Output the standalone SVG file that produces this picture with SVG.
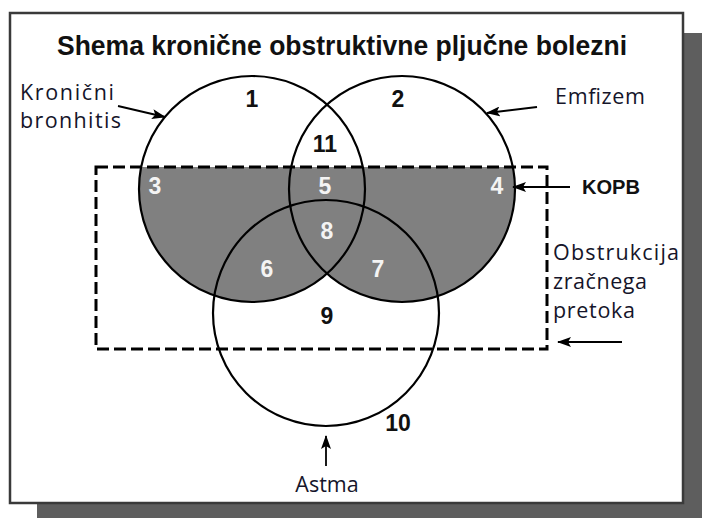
<svg xmlns="http://www.w3.org/2000/svg" width="702" height="518" viewBox="0 0 702 518">
<style>
.num{font-family:"Liberation Sans",Arial,sans-serif;font-weight:bold;font-size:23px;text-anchor:middle}
.blk{fill:#111}
.wht{fill:#f4f4f4}
.lbl{font-family:"Open Sans","Noto Sans",sans-serif;font-size:21.5px;fill:#15152a}
.circ{fill:none;stroke:#000;stroke-width:2.2}
.arr{stroke:#000;stroke-width:1.8;fill:none;marker-end:url(#ah)}
</style>
<defs>
<marker id="ah" viewBox="0 0 14 10" refX="13" refY="5" markerWidth="14" markerHeight="10" markerUnits="userSpaceOnUse" orient="auto">
<path d="M0,0 L14,5 L0,10 L3,5 Z" fill="#000"/>
</marker>
<clipPath id="box"><rect x="96" y="167" width="451" height="182"/></clipPath>
</defs>
<rect id="shadow" x="37" y="33" width="665" height="485" fill="#5e5e5e"/>
<rect id="frame" x="10" y="13" width="673" height="490" fill="#fff" stroke="#3a3a3a" stroke-width="2.5"/>
<text x="342" y="55" font-family="'Liberation Sans',Arial,sans-serif" font-weight="bold" font-size="28" fill="#111" text-anchor="middle" textLength="570" lengthAdjust="spacingAndGlyphs">Shema kronične obstruktivne pljučne bolezni</text>
<g id="shading" clip-path="url(#box)" fill="#808080">
<circle cx="252" cy="189" r="113"/>
<circle cx="402" cy="189" r="113"/>
</g>
<g id="kronicni-bronhitis">
<circle class="circ" cx="252" cy="189" r="113"/>
<text class="lbl" x="20" y="100" textLength="94" lengthAdjust="spacing">Kronični</text>
<text class="lbl" x="20" y="128" textLength="101" lengthAdjust="spacing">bronhitis</text>
</g>
<g id="emfizem">
<circle class="circ" cx="402" cy="189" r="113"/>
<text class="lbl" x="555" y="104" textLength="90" lengthAdjust="spacing">Emfizem</text>
</g>
<g id="astma">
<circle class="circ" cx="326" cy="313" r="113"/>
<text class="lbl" x="327" y="492" text-anchor="middle">Astma</text>
</g>
<g id="obstrukcija">
<rect x="96" y="167" width="451" height="182" fill="none" stroke="#000" stroke-width="3" stroke-dasharray="12 5"/>
<text class="lbl" x="553" y="260" textLength="126" lengthAdjust="spacing">Obstrukcija</text>
<text class="lbl" x="553" y="289" textLength="94" lengthAdjust="spacing">zračnega</text>
<text class="lbl" x="553" y="318" textLength="82" lengthAdjust="spacing">pretoka</text>
</g>
<g id="kopb">
<text x="582" y="194" font-family="'Liberation Sans',Arial,sans-serif" font-weight="bold" font-size="21" fill="#111" textLength="58" lengthAdjust="spacingAndGlyphs">KOPB</text>
</g>
<g id="regions">
<text class="num blk" x="252" y="107">1</text>
<text class="num blk" x="398" y="107">2</text>
<text class="num blk" x="325" y="152">11</text>
<text class="num wht" x="155" y="194">3</text>
<text class="num wht" x="325" y="194">5</text>
<text class="num wht" x="497" y="194">4</text>
<text class="num wht" x="327" y="239">8</text>
<text class="num wht" x="267" y="277">6</text>
<text class="num wht" x="378" y="277">7</text>
<text class="num blk" x="327" y="324">9</text>
<text class="num blk" x="398" y="431">10</text>
</g>
<g id="connectors">
<line class="arr" x1="118" y1="106" x2="165" y2="117"/>
<line class="arr" x1="537" y1="107" x2="487" y2="113"/>
<line class="arr" x1="570" y1="187" x2="513" y2="187"/>
<line class="arr" x1="622" y1="342" x2="558" y2="342"/>
<line class="arr" x1="326" y1="466" x2="326" y2="436"/>
</g>
</svg>
